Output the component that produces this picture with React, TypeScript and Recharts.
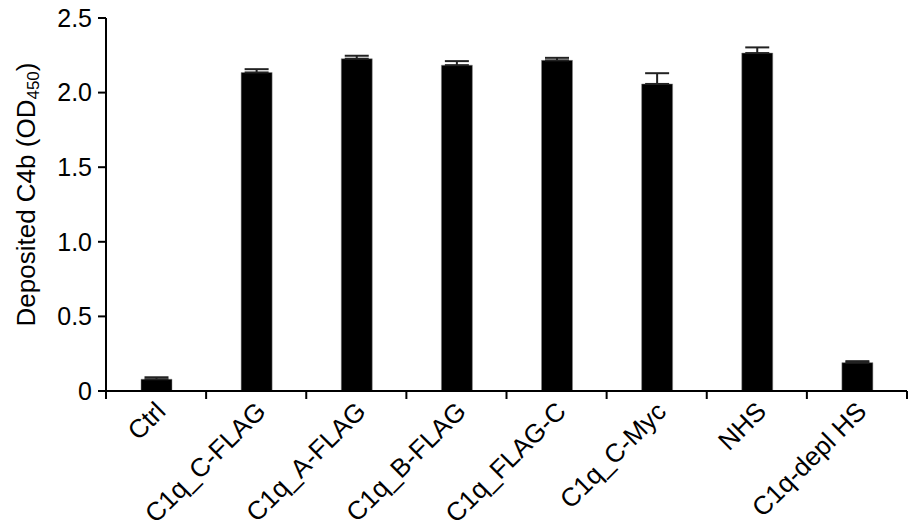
import { BarChart, Bar, XAxis, YAxis, ErrorBar } from 'recharts';

const categories = [
  'Ctrl',
  'C1q_C-FLAG',
  'C1q_A-FLAG',
  'C1q_B-FLAG',
  'C1q_FLAG-C',
  'C1q_C-Myc',
  'NHS',
  'C1q-depl HS',
];
const values = [0.079, 2.135, 2.227, 2.184, 2.216, 2.058, 2.265, 0.19];
const errors = [0.013, 0.022, 0.02, 0.027, 0.017, 0.072, 0.038, 0.01];
const yTicks = [0, 0.5, 1, 1.5, 2, 2.5];

const rows = categories.map((name, i) => ({ name, value: values[i], err: [0, errors[i]] }));

const W = 909;
const H = 529;
const M = { top: 18, right: 2, bottom: 0, left: 0 };
const Y_W = 106;
const X_H = 138;
const FONT = '"Liberation Sans", Arial, sans-serif';
const HALF = (W - M.left - M.right - Y_W) / categories.length / 2;

function XTick(props: any) {
  const { x, y, payload, index } = props;
  const last = index === categories.length - 1;
  const tx = x + 11;
  const ty = y + 22;
  return (
    <g>
      <line x1={x - HALF} x2={x - HALF} y1={y} y2={y + 8} stroke="#000" strokeWidth={2} />
      {last && <line x1={x + HALF} x2={x + HALF} y1={y} y2={y + 8} stroke="#000" strokeWidth={2} />}
      <text
        x={tx}
        y={ty}
        textAnchor="end"
        transform={`rotate(-45, ${tx}, ${ty})`}
        fontSize={26}
        fontFamily={FONT}
        fill="#000"
      >
        {payload.value}
      </text>
    </g>
  );
}

function YLabel(props: any) {
  const vb = props.viewBox || {};
  const cx = 26;
  const cy = (vb.y ?? 18) + (vb.height ?? 373) / 2 - 10;
  return (
    <text
      x={cx}
      y={cy}
      transform={`rotate(-90, ${cx}, ${cy})`}
      textAnchor="middle"
      dominantBaseline="central"
      fontSize={26}
      fontFamily={FONT}
      fill="#000"
    >
      Deposited C4b (OD
      <tspan fontSize={17} dy={7}>450</tspan>
      <tspan dy={-7}>)</tspan>
    </text>
  );
}

export default function App() {
  return (
    <div style={{ position: 'absolute', left: 0, top: 0, background: '#fff' }}>
      <BarChart width={W} height={H} data={rows} margin={M} barSize={31}>
        <XAxis
          dataKey="name"
          height={X_H}
          interval={0}
          tickLine={false}
          tickSize={0}
          tickMargin={0}
          axisLine={{ stroke: '#000', strokeWidth: 2 }}
          tick={<XTick />}
        />
        <YAxis
          width={Y_W}
          domain={[0, 2.5]}
          ticks={yTicks}
          interval={0}
          tickSize={8}
          tickMargin={6}
          tickLine={{ stroke: '#000', strokeWidth: 2 }}
          axisLine={{ stroke: '#000', strokeWidth: 2 }}
          tick={{ fill: '#000', fontSize: 25, fontFamily: FONT }}
          tickFormatter={(v: number) => (v === 0 ? '0' : v.toFixed(1))}
          label={<YLabel />}
        />
        <Bar dataKey="value" fill="#000" stroke="#888" strokeWidth={0.5} isAnimationActive={false}>
          <ErrorBar dataKey="err" width={12} stroke="#222" strokeWidth={2} direction="y" />
        </Bar>
      </BarChart>
    </div>
  );
}
